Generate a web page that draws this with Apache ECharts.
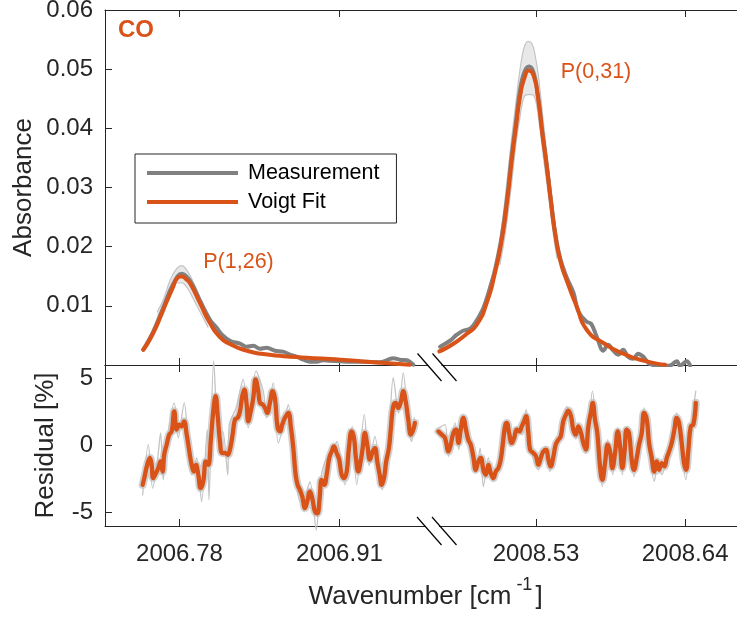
<!DOCTYPE html>
<html><head><meta charset="utf-8">
<script src="https://cdn.jsdelivr.net/npm/echarts@6/dist/echarts.min.js"></script>
<style>html,body{margin:0;padding:0;background:#fff}#c{width:737px;height:617px}</style>
</head><body><div id="c"></div>
<script>
// ---------- tick values ----------
const xTicksLeft = [2006.78, 2006.91];
const xTicksRight = [2008.53, 2008.64];
const resTicks = [-5, 0, 5];
const xRangeLeft = [2006.7195, 2006.9852];
const xRangeRight = [2008.4532, 2008.6783];

// ---------- P(1,26) line, left segment ----------
const fitLeft = [
 [2006.7506,0.00258],[2006.7587,0.00541],[2006.7668,0.00934],[2006.7750,0.01328],[2006.7777,0.01455],
 [2006.7818,0.01497],[2006.7859,0.01440],[2006.7885,0.01385],[2006.7967,0.01047],[2006.8048,0.00709],
 [2006.8129,0.00473],[2006.8210,0.00355],[2006.8346,0.00242],[2006.8481,0.00186],[2006.8752,0.00135],
 [2006.9023,0.00101],[2006.9293,0.00061],[2006.9673,0.00005]
];
const measLeft = [
 [2006.7506,0.00258],[2006.7587,0.00563],[2006.7668,0.00968],[2006.7750,0.01373],[2006.7818,0.01542],
 [2006.7885,0.01424],[2006.7967,0.01086],[2006.8048,0.00765],[2006.8102,0.00630],[2006.8145,0.00512],
 [2006.8210,0.00410],[2006.8292,0.00360],[2006.8346,0.00309],[2006.8400,0.00326],[2006.8454,0.00275],
 [2006.8508,0.00292],[2006.8576,0.00242],[2006.8641,0.00225],[2006.8698,0.00174],[2006.8752,0.00140],
 [2006.8806,0.00090],[2006.8860,0.00056],[2006.8915,0.00056],[2006.8969,0.00081],[2006.9023,0.00073],
 [2006.9104,0.00064],[2006.9185,0.00056],[2006.9293,0.00056],[2006.9429,0.00047],[2006.9537,0.00115],
 [2006.9591,0.00090],[2006.9646,0.00081],[2006.9700,0.00005]
];
const bandLeftX  = [2006.7620,2006.7668,2006.7718,2006.7767,2006.7818,2006.7861,2006.7910,2006.7967,2006.8032];
const bandLeftHi = [0.0090,0.0110,0.0140,0.0160,0.0168,0.0160,0.0141,0.0114,0.0082];
const bandLeftLo = [0.0070,0.0085,0.0118,0.0138,0.0139,0.0131,0.0113,0.0090,0.0064];

// ---------- P(0,31) line, right segment ----------
const fitRight = [
 [2008.4586,0.00230],[2008.4690,0.00360],[2008.4789,0.00529],[2008.4862,0.00681],[2008.4936,0.01052],
 [2008.4997,0.01559],[2008.5047,0.02117],[2008.5088,0.02792],[2008.5121,0.03468],[2008.5152,0.04030],
 [2008.5182,0.04537],[2008.5214,0.04848],[2008.5248,0.04976],[2008.5280,0.04904],[2008.5313,0.04537],
 [2008.5346,0.03919],[2008.5379,0.03355],[2008.5408,0.02792],[2008.5440,0.02230],[2008.5477,0.01779],
 [2008.5527,0.01424],[2008.5600,0.00990],[2008.5674,0.00596],[2008.5797,0.00372],[2008.5944,0.00191],
 [2008.6117,0.00061],[2008.6252,0.00005]
];
const measRight = [
 [2008.4592,0.00309],[2008.4665,0.00410],[2008.4715,0.00512],[2008.4761,0.00579],[2008.4813,0.00613],
 [2008.4850,0.00709],[2008.4911,0.00963],[2008.4960,0.01306],[2008.4997,0.01610],[2008.5047,0.02184],
 [2008.5088,0.02860],[2008.5121,0.03552],[2008.5152,0.04110],[2008.5182,0.04650],[2008.5214,0.04954],
 [2008.5248,0.05044],[2008.5280,0.04954],[2008.5313,0.04566],[2008.5346,0.03941],[2008.5379,0.03367],
 [2008.5408,0.02809],[2008.5440,0.02252],[2008.5477,0.01813],[2008.5527,0.01475],[2008.5576,0.01221],
 [2008.5613,0.00900],[2008.5674,0.00731],[2008.5706,0.00698],[2008.5748,0.00478],[2008.5797,0.00242],
 [2008.5831,0.00343],[2008.5870,0.00242],[2008.5907,0.00174],[2008.5942,0.00258],[2008.5979,0.00140],
 [2008.6018,0.00106],[2008.6053,0.00191],[2008.6092,0.00140],[2008.6127,0.00039],[2008.6156,0.00005],
 [2008.6200,-0.0002],[2008.6289,-0.0001],[2008.6338,0.00064],[2008.6363,-0.0001],[2008.6412,0.00064],
 [2008.6437,-0.0001]
];
const bandRightX  = [2008.5034,2008.5071,2008.5116,2008.5152,2008.5182,2008.5211,2008.5241,2008.5270,2008.5296,2008.5322,2008.5352,2008.5389,2008.5425,2008.5455];
const bandRightHi = [0.0210,0.0280,0.0375,0.0445,0.0500,0.0536,0.0547,0.0543,0.0520,0.0480,0.0415,0.0340,0.0270,0.0210];
const bandRightLo = [0.0170,0.0220,0.0300,0.0375,0.0420,0.0453,0.0457,0.0457,0.0448,0.0410,0.0355,0.0290,0.0225,0.0180];

// ---------- residuals [%] ----------
const resLeft = [
 [2006.7501,-2.93],[2006.7520,-2.18],[2006.7538,-1.44],[2006.7560,-0.93],[2006.7574,-1.44],[2006.7587,-2.43],
 [2006.7609,-2.06],[2006.7628,-1.68],[2006.7647,-1.19],[2006.7663,-1.94],[2006.7676,-0.69],[2006.7696,0.06],
 [2006.7717,0.81],[2006.7737,1.05],[2006.7758,2.55],[2006.7777,1.18],[2006.7798,1.56],[2006.7818,1.43],
 [2006.7837,1.80],[2006.7859,0.81],[2006.7880,-0.44],[2006.7899,-1.44],[2006.7918,-1.94],[2006.7934,-1.44],
 [2006.7953,-2.18],[2006.7972,-3.18],[2006.7993,-2.69],[2006.8015,-1.19],[2006.8034,-1.44],[2006.8056,0.56],
 [2006.8075,2.55],[2006.8094,3.67],[2006.8110,2.30],[2006.8129,0.31],[2006.8148,-0.56],[2006.8170,-0.56],
 [2006.8192,-0.69],[2006.8210,-0.31],[2006.8232,0.81],[2006.8251,1.93],[2006.8273,2.06],[2006.8292,2.55],
 [2006.8310,3.67],[2006.8327,4.17],[2006.8346,3.05],[2006.8359,1.80],[2006.8379,2.55],[2006.8400,3.55],
 [2006.8419,4.92],[2006.8440,4.05],[2006.8454,3.18],[2006.8476,3.05],[2006.8495,2.80],[2006.8513,2.43],
 [2006.8535,3.18],[2006.8557,4.05],[2006.8576,3.50],[2006.8598,1.31],[2006.8617,1.05],[2006.8635,1.56],
 [2006.8657,2.06],[2006.8684,2.43],[2006.8706,1.31],[2006.8725,-0.19],[2006.8744,-2.18],[2006.8760,-2.93],
 [2006.8779,-3.31],[2006.8798,-3.81],[2006.8820,-4.67],[2006.8838,-4.18],[2006.8860,-3.43],[2006.8879,-3.93],
 [2006.8901,-4.93],[2006.8920,-5.05],[2006.8939,-3.93],[2006.8955,-2.56],[2006.8977,-2.93],[2006.8996,-2.18],
 [2006.9017,-0.93],[2006.9037,-0.44],[2006.9055,-0.07],[2006.9077,-0.56],[2006.9098,-1.06],[2006.9118,-2.18],
 [2006.9139,-2.43],[2006.9159,-1.94],[2006.9177,-0.19],[2006.9199,1.05],[2006.9218,0.56],[2006.9234,-0.93],
 [2006.9253,-1.94],[2006.9272,-1.19],[2006.9289,-0.19],[2006.9307,0.93],[2006.9326,0.06],[2006.9348,-1.06],
 [2006.9370,-0.44],[2006.9388,-0.19],[2006.9407,-1.19],[2006.9427,-2.18],[2006.9443,-2.93],[2006.9462,-2.43],
 [2006.9480,-1.19],[2006.9502,-0.19],[2006.9518,1.31],[2006.9537,2.92],[2006.9557,3.18],[2006.9578,2.80],
 [2006.9600,3.30],[2006.9618,4.05],[2006.9638,3.30],[2006.9659,1.93],[2006.9681,0.81],[2006.9700,1.18],
 [2006.9713,1.68]
];
const resLeftScan = [
 [2006.7501,-3.68],[2006.7547,0.06],[2006.7582,-3.18],[2006.7620,-1.2],[2006.7647,0.93],[2006.7668,-2.56],
 [2006.7700,0.5],[2006.7758,3.18],[2006.7790,0.56],[2006.7839,3.18],[2006.7870,0.3],[2006.7899,-2.18],
 [2006.7940,-0.93],[2006.7980,-4.18],[2006.8026,1.18],[2006.8040,-4.05],[2006.8078,6.3],[2006.8119,0.68],
 [2006.8151,1.05],[2006.8192,-2.18],[2006.8205,1.56],[2006.8260,2.8],[2006.8318,4.92],[2006.8359,1.31],
 [2006.8422,5.54],[2006.8481,4.05],[2006.8508,2.06],[2006.8562,4.67],[2006.8603,0.19],[2006.8657,2.0],
 [2006.8684,3.05],[2006.8730,-0.8],[2006.8779,-4.18],[2006.8820,-3.8],[2006.8860,-2.69],[2006.8912,-6.3],
 [2006.8940,-3.0],[2006.8982,-1.19],[2006.9030,-0.8],[2006.9080,0.3],[2006.9144,-2.93],[2006.9204,1.43],
 [2006.9240,-2.93],[2006.9302,2.30],[2006.9340,-1.5],[2006.9388,0.68],[2006.9448,-3.31],[2006.9500,0.5],
 [2006.9537,5.05],[2006.9580,2.4],[2006.9618,5.42],[2006.9660,1.5],[2006.9687,0.31],[2006.9708,2.06]
];
const resRight = [
 [2008.4579,1.05],[2008.4604,0.81],[2008.4628,0.56],[2008.4653,-0.44],[2008.4670,0.06],[2008.4690,0.93],
 [2008.4710,1.18],[2008.4727,0.19],[2008.4744,1.18],[2008.4763,2.06],[2008.4783,1.18],[2008.4800,0.43],
 [2008.4818,0.06],[2008.4837,-0.82],[2008.4855,-1.81],[2008.4874,-1.19],[2008.4892,-0.93],[2008.4911,-1.81],
 [2008.4929,-2.18],[2008.4948,-1.44],[2008.4966,-2.06],[2008.4985,-2.43],[2008.5003,-1.94],[2008.5022,-1.68],
 [2008.5039,-1.06],[2008.5054,0.06],[2008.5071,1.43],[2008.5084,1.68],[2008.5101,0.93],[2008.5121,0.19],
 [2008.5138,0.56],[2008.5158,1.18],[2008.5177,1.05],[2008.5194,1.43],[2008.5211,1.80],[2008.5226,2.18],
 [2008.5243,0.93],[2008.5256,-0.31],[2008.5280,-0.56],[2008.5300,-0.82],[2008.5317,-1.44],[2008.5335,-0.93],
 [2008.5354,-0.44],[2008.5374,-0.31],[2008.5391,-1.06],[2008.5408,-1.56],[2008.5428,-0.82],[2008.5445,0.06],
 [2008.5465,0.43],[2008.5482,0.68],[2008.5501,1.80],[2008.5521,2.30],[2008.5538,2.60],[2008.5558,2.18],
 [2008.5575,1.18],[2008.5593,0.81],[2008.5612,1.43],[2008.5632,0.93],[2008.5649,0.19],[2008.5667,-0.31],
 [2008.5686,1.43],[2008.5706,2.55],[2008.5718,3.18],[2008.5735,1.93],[2008.5752,0.93],[2008.5772,-1.56],
 [2008.5789,-2.56],[2008.5809,-1.31],[2008.5829,0.06],[2008.5846,-0.44],[2008.5863,-1.68],[2008.5883,-0.56],
 [2008.5903,1.05],[2008.5920,-0.07],[2008.5937,-1.68],[2008.5952,-0.56],[2008.5969,1.18],[2008.5986,0.93],
 [2008.6006,-1.06],[2008.6023,-1.81],[2008.6043,-0.93],[2008.6060,0.06],[2008.6080,0.93],[2008.6097,2.43],
 [2008.6117,1.93],[2008.6134,0.19],[2008.6154,-0.93],[2008.6173,-1.94],[2008.6191,-1.19],[2008.6208,-1.81],
 [2008.6228,-1.31],[2008.6247,-1.56],[2008.6265,-0.93],[2008.6282,-0.44],[2008.6301,0.19],[2008.6321,1.18],
 [2008.6338,2.06],[2008.6355,1.68],[2008.6375,0.19],[2008.6392,-1.31],[2008.6407,-1.81],[2008.6424,-0.31],
 [2008.6442,1.43],[2008.6461,1.56],[2008.6479,3.18]
];
const resRightScan = [
 [2008.4579,1.3],[2008.4628,1.56],[2008.4653,-0.82],[2008.4702,1.68],[2008.4730,-0.3],[2008.4763,2.30],
 [2008.4800,0.2],[2008.4855,-2.06],[2008.4887,-0.19],[2008.4911,-3.06],[2008.4948,-0.93],[2008.4985,-2.68],
 [2008.5030,-0.8],[2008.5071,1.80],[2008.5108,-0.07],[2008.5162,1.31],[2008.5200,0.8],[2008.5226,2.68],
 [2008.5280,-1.06],[2008.5317,-1.81],[2008.5366,-0.07],[2008.5403,-1.94],[2008.5450,0.3],[2008.5490,0.81],
 [2008.5527,2.92],[2008.5593,0.5],[2008.5632,1.2],[2008.5667,-0.6],[2008.5716,4.05],[2008.5750,0.8],
 [2008.5789,-3.06],[2008.5829,0.43],[2008.5866,-2.18],[2008.5903,1.31],[2008.5937,-2.18],[2008.5972,1.43],
 [2008.6023,-2.31],[2008.6060,0.3],[2008.6097,2.80],[2008.6130,-0.2],[2008.6173,-2.68],[2008.6200,-1.0],
 [2008.6228,-2.18],[2008.6280,-0.3],[2008.6338,2.43],[2008.6370,0.0],[2008.6405,-2.56],[2008.6440,1.2],
 [2008.6479,4.05]
];

// ---------- styling ----------
const INK = '#262626', ORANGE = '#D95319', GRAY = '#808080', LIGHT = '#c4c4c4', HALO = '#d2d2d2', BANDFILL = '#e8e8e8';
const FONT = '"Liberation Sans", Arial, Helvetica, sans-serif';

const chart = echarts.init(document.getElementById('c'), null, { renderer: 'canvas' });

function xa(grid, pos, range, ticks, labels) {
  return {
    type: 'value', gridIndex: grid, position: pos, min: range[0], max: range[1],
    axisLine: { show: true, onZero: false, lineStyle: { color: INK, width: 1 } },
    axisTick: { show: true, inside: true, length: 7, customValues: ticks, lineStyle: { color: INK, width: 1 } },
    axisLabel: { show: labels, customValues: ticks, formatter: v => Number(v).toFixed(2),
      fontSize: 24, color: INK, fontFamily: FONT, margin: 16 },
    splitLine: { show: false }
  };
}
function lineS(name, xi, yi, data, color, width, extra) {
  return Object.assign({
    name, type: 'line', xAxisIndex: xi, yAxisIndex: yi, data, symbol: 'none', showSymbol: false,
    color, itemStyle: { color }, lineStyle: { color, width, cap: 'round', join: 'round' },
    smooth: 0.45, silent: true, animation: false
  }, extra || {});
}
function band(xi, yi, xs, hi, lo) {
  return {
    type: 'custom', xAxisIndex: xi, yAxisIndex: yi, silent: true, animation: false,
    data: [[xs[0], lo[0]]], encode: { x: 0, y: 1 },
    renderItem: function (params, api) {
      const pts = [];
      for (let i = 0; i < xs.length; i++) pts.push(api.coord([xs[i], hi[i]]));
      for (let i = xs.length - 1; i >= 0; i--) pts.push(api.coord([xs[i], lo[i]]));
      return { type: 'polygon', shape: { points: pts, smooth: 0.25 }, style: { fill: BANDFILL, stroke: null } };
    }
  };
}
const zip = (xs, ys) => xs.map((x, i) => [x, ys[i]]);

// x-axis title pieces (superscript handled as a separate small text)
const mctx = document.createElement('canvas').getContext('2d');
mctx.font = '26px ' + FONT;
const titleMain = 'Wavenumber [cm';
const wMain = mctx.measureText(titleMain).width;
mctx.font = '18px ' + FONT;
const wSup = mctx.measureText('-1').width;
const titleX0 = 426 - (wMain + 5 + wSup + 3 + 8) / 2;

const option = {
  animation: false,
  backgroundColor: '#fff',
  textStyle: { fontFamily: FONT },
  grid: [
    { left: 105, top: 10, width: 327, height: 355, outerBoundsMode: 'none', containLabel: false },
    { left: 432, top: 10, width: 305, height: 355, outerBoundsMode: 'none', containLabel: false },
    { left: 105, top: 365, width: 327, height: 161, outerBoundsMode: 'none', containLabel: false },
    { left: 432, top: 365, width: 305, height: 161, outerBoundsMode: 'none', containLabel: false }
  ],
  xAxis: [
    xa(0, 'bottom', xRangeLeft, xTicksLeft, false),
    xa(0, 'top', xRangeLeft, xTicksLeft, false),
    xa(1, 'bottom', xRangeRight, xTicksRight, false),
    xa(1, 'top', xRangeRight, xTicksRight, false),
    xa(2, 'bottom', xRangeLeft, xTicksLeft, true),
    xa(2, 'top', xRangeLeft, xTicksLeft, false),
    xa(3, 'bottom', xRangeRight, xTicksRight, true),
    xa(3, 'top', xRangeRight, xTicksRight, false)
  ],
  yAxis: [
    { type: 'value', gridIndex: 0, min: 0, max: 0.06, interval: 0.01,
      axisLine: { show: true, lineStyle: { color: INK } },
      axisTick: { show: true, inside: true, length: 7, lineStyle: { color: INK } },
      axisLabel: { formatter: v => (Math.abs(v) < 1e-9 ? '' : Number(v).toFixed(2)), fontSize: 24, color: INK, fontFamily: FONT, margin: 12 },
      splitLine: { show: false },
      name: 'Absorbance', nameLocation: 'middle', nameGap: 68, nameMoveOverlap: false,
      nameTextStyle: { fontSize: 26, color: INK, fontFamily: FONT } },
    { type: 'value', gridIndex: 1, min: 0, max: 0.06, show: false },
    { type: 'value', gridIndex: 2, min: -6, max: 6,
      axisLine: { show: true, lineStyle: { color: INK } },
      axisTick: { show: true, inside: true, length: 7, customValues: resTicks, lineStyle: { color: INK } },
      axisLabel: { customValues: resTicks, formatter: v => String(v), fontSize: 24, color: INK, fontFamily: FONT, margin: 12 },
      splitLine: { show: false },
      name: 'Residual [%]', nameLocation: 'middle', nameGap: 46, nameMoveOverlap: false,
      nameTextStyle: { fontSize: 26, color: INK, fontFamily: FONT } },
    { type: 'value', gridIndex: 3, min: -6, max: 6, show: false }
  ],
  legend: {
    data: ['Measurement', 'Voigt Fit'], orient: 'vertical', left: 135, top: 154,
    padding: [7, 17, 9, 12], itemWidth: 91, itemHeight: 4, itemGap: 5, icon: 'rect',
    borderColor: INK, borderWidth: 1, backgroundColor: '#fff', selectedMode: false,
    textStyle: { fontSize: 21.5, color: '#000', fontFamily: FONT, lineHeight: 24, padding: [0, 0, 0, 5] }
  },
  series: [
    band(0, 0, bandLeftX, bandLeftHi, bandLeftLo),
    lineS('envL1', 0, 0, zip(bandLeftX, bandLeftHi), LIGHT, 1.2),
    lineS('envL2', 0, 0, zip(bandLeftX, bandLeftLo), LIGHT, 1.2),
    band(2, 1, bandRightX, bandRightHi, bandRightLo),
    lineS('envR1', 2, 1, zip(bandRightX, bandRightHi), LIGHT, 1.2),
    lineS('envR2', 2, 1, zip(bandRightX, bandRightLo), LIGHT, 1.2),
    lineS('Measurement', 0, 0, measLeft, GRAY, 4, { smooth: 0.4 }),
    lineS('Measurement', 2, 1, measRight, GRAY, 4, { smooth: 0.4 }),
    lineS('Voigt Fit', 0, 0, fitLeft, ORANGE, 4, { smooth: 0.6 }),
    lineS('Voigt Fit', 2, 1, fitRight, ORANGE, 4, { smooth: 0.6 }),

    lineS('haloL', 4, 2, resLeft, HALO, 8),
    lineS('scanL', 4, 2, resLeftScan, LIGHT, 1.3, { clip: false, smooth: 0.3 }),
    lineS('resL', 4, 2, resLeft, ORANGE, 4.3),
    lineS('haloR', 6, 3, resRight, HALO, 8),
    lineS('scanR', 6, 3, resRightScan, LIGHT, 1.3, { clip: false, smooth: 0.3 }),
    lineS('resR', 6, 3, resRight, ORANGE, 4.3)
  ],
  graphic: [
    // gaps in the axis lines at the break
    { type: 'rect', z: 100, shape: { x: 428.5, y: 363, width: 13, height: 4 }, style: { fill: '#fff' } },
    { type: 'rect', z: 100, shape: { x: 426, y: 524, width: 13, height: 4 }, style: { fill: '#fff' } },
    // break marks
    { type: 'line', z: 101, shape: { x1: 417.5, y1: 353.5, x2: 441.5, y2: 381 }, style: { stroke: '#000', lineWidth: 1.2 } },
    { type: 'line', z: 101, shape: { x1: 432.5, y1: 353.5, x2: 456.5, y2: 381 }, style: { stroke: '#000', lineWidth: 1.2 } },
    { type: 'line', z: 101, shape: { x1: 417, y1: 517, x2: 441.5, y2: 545 }, style: { stroke: '#000', lineWidth: 1.2 } },
    { type: 'line', z: 101, shape: { x1: 432, y1: 517, x2: 456.5, y2: 545 }, style: { stroke: '#000', lineWidth: 1.2 } },
    // annotations
    { type: 'text', z: 102, x: 118, y: 30, style: { text: 'CO', fill: ORANGE, font: 'bold 24px ' + FONT, textAlign: 'left', textVerticalAlign: 'middle' } },
    { type: 'text', z: 102, x: 238.5, y: 262, style: { text: 'P(1,26)', fill: ORANGE, font: '21.5px ' + FONT, textAlign: 'center', textVerticalAlign: 'middle' } },
    { type: 'text', z: 102, x: 596, y: 72, style: { text: 'P(0,31)', fill: ORANGE, font: '21.5px ' + FONT, textAlign: 'center', textVerticalAlign: 'middle' } },
    // x-axis title
    { type: 'text', z: 102, x: titleX0, y: 597, style: { text: titleMain, fill: INK, font: '26px ' + FONT, textAlign: 'left', textVerticalAlign: 'middle' } },
    { type: 'text', z: 102, x: titleX0 + wMain + 5, y: 585, style: { text: '-1', fill: INK, font: '18px ' + FONT, textAlign: 'left', textVerticalAlign: 'middle' } },
    { type: 'text', z: 102, x: titleX0 + wMain + 5 + wSup + 3, y: 597, style: { text: ']', fill: INK, font: '26px ' + FONT, textAlign: 'left', textVerticalAlign: 'middle' } }
  ]
};
chart.setOption(option);
</script>
</body></html>
